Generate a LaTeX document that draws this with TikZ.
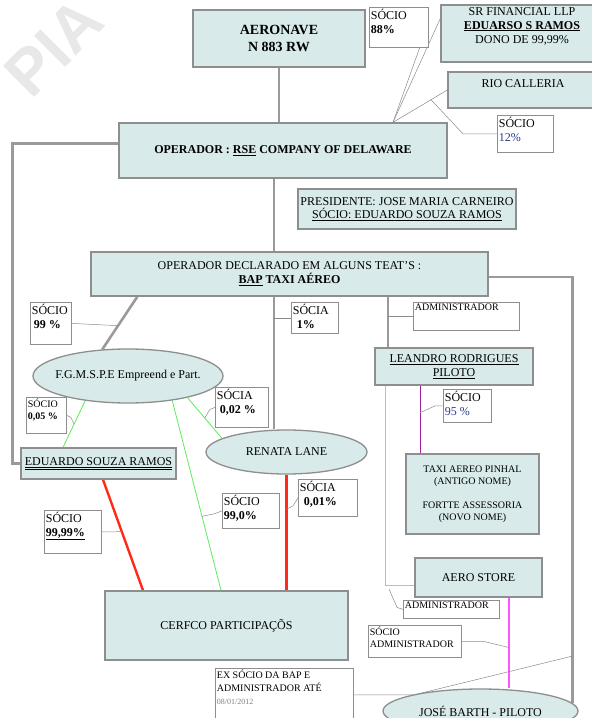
\documentclass[tikz,border=0pt]{standalone}
\usepackage{fontspec}
\setmainfont{Liberation Serif}
\newfontfamily\marksans{Liberation Sans}
\usetikzlibrary{shapes.geometric, calc, backgrounds}
\definecolor{boxfill}{HTML}{D8EAEA}
\definecolor{boxline}{HTML}{8E8E8E}
\definecolor{linkgray}{HTML}{9A9A9A}
\definecolor{callgray}{HTML}{8A8A8A}
\definecolor{ownred}{HTML}{FF2A1A}
\definecolor{owngreen}{HTML}{5CEB5C}
\definecolor{admpurple}{HTML}{A0209E}
\definecolor{admpink}{HTML}{DDA6DD}
\definecolor{admmag}{HTML}{FF55FF}
\definecolor{markgray}{HTML}{E8E8E8}
\definecolor{numblue}{HTML}{2A3A8A}
\newcommand{\calltxt}[3]{\parbox[t][#2][t]{#1}{\raggedright #3}}
\tikzset{
  entbox/.style = {draw=boxline, fill=boxfill, line width=1.3pt, align=center,
    inner xsep=1pt, inner ysep=2pt, font=\fontsize{12}{14}\selectfont},
  entoval/.style = {entbox, ellipse, inner sep=0pt},
  callbox/.style = {draw=boxline, fill=white, line width=0.8pt, anchor=north west,
    inner sep=1.5pt, font=\fontsize{12}{14}\selectfont},
  smallcall/.style = {callbox, font=\fontsize{10}{12}\selectfont},
  link/.style = {draw=linkgray, line width=2.6pt},
  call/.style = {draw=callgray, line width=0.5pt},
  redlink/.style = {draw=ownred, line width=2.4pt},
  greenlink/.style = {draw=owngreen, line width=0.8pt},
  purplelink/.style = {draw=admpurple, line width=1pt},
  pinklink/.style = {draw=admpink, line width=1pt},
  maglink/.style = {draw=admmag, line width=1.2pt},
  watermark/.style = {text=markgray, rotate=45,
    font=\marksans\bfseries\fontsize{64}{64}\selectfont}
}
\begin{document}
\begin{tikzpicture}[x=1pt, y=-1pt]
\useasboundingbox (0,0) rectangle (592,718);

\node[entbox, minimum width=172pt, minimum height=57pt,
  font=\fontsize{14}{17}\selectfont\bfseries] (aeronave) at (279,38.5) {AERONAVE\\N 883 RW};
\node[callbox] (soc88) at (369,7) {\calltxt{56pt}{37pt}{SÓCIO\\\textbf{88\%}}};
\node[entbox, minimum width=155pt, minimum height=57pt] (srfin) at (518.5,33.5) {};
\node[align=center, font=\fontsize{12}{14}\selectfont] (srfinlabel) at (522,26)
  {SR FINANCIAL LLP\\\textbf{\underline{EDUARSO S RAMOS}}\\DONO DE 99,99\%};
\node[entbox, minimum width=148pt, minimum height=36pt] (rio) at (522,90) {};
\node[font=\fontsize{12}{14}\selectfont] (riolabel) at (523,84) {RIO CALLERIA};
\node[callbox] (soc12) at (497,115) {\calltxt{53pt}{34pt}{SÓCIO\\\textcolor{numblue}{12\%}}};

\node[entbox, minimum width=328pt, minimum height=55pt,
  font=\fontsize{12}{14}\selectfont\bfseries] (operador) at (283,150.5)
  {OPERADOR : \underline{RSE} COMPANY OF DELAWARE};
\node[entbox, minimum width=218pt, minimum height=40pt,
  font=\fontsize{12}{13}\selectfont] (presid) at (407,209)
  {PRESIDENTE: JOSE MARIA CARNEIRO\\\underline{SÓCIO: EDUARDO SOUZA RAMOS}};
\node[entbox, minimum width=397pt, minimum height=44pt] (declarado) at (289.5,274)
  {OPERADOR DECLARADO EM ALGUNS TEAT'S :\\\textbf{\underline{BAP} TAXI AÉREO}};

\node[callbox] (soc99) at (30,302) {\calltxt{38pt}{39pt}{SÓCIO\\\hspace*{2pt}\textbf{99 \%}}};
\node[callbox] (soc1) at (291,302) {\calltxt{44pt}{28pt}{SÓCIA\\\hspace*{4pt}\textbf{1\%}}};
\node[smallcall] (adm1) at (413,302) {\calltxt{103pt}{25pt}{ADMINISTRADOR}};
\node[entbox, minimum width=158pt, minimum height=37pt] (leandro) at (454,366.5)
  {\underline{LEANDRO RODRIGUES}\\\underline{PILOTO}};
\node[entoval, minimum width=190pt, minimum height=54pt] (fgm) at (128,376)
  {\makebox[0pt]{F.G.M.S.P.E Empreend e Part.}};
\node[smallcall] (soc005) at (26,397) {\calltxt{37pt}{33pt}{SÓCIO\\\textbf{0,05 \%}}};
\node[callbox] (soc002) at (215,387) {\calltxt{50pt}{37pt}{SÓCIA\\\hspace*{3pt}\textbf{0,02 \%}}};
\node[callbox] (soc95) at (443,389) {\calltxt{45pt}{30pt}{SÓCIO\\\textcolor{numblue}{95 \%}}};
\node[entoval, minimum width=161pt, minimum height=44pt] (renata) at (286.5,452)
  {\makebox[0pt]{RENATA LANE}};
\node[entbox, minimum width=155pt, minimum height=31pt] (eduardo) at (98.5,463.5)
  {\underline{\underline{EDUARDO SOUZA RAMOS}}};
\node[entbox, minimum width=133pt, minimum height=80pt,
  font=\fontsize{10}{12}\selectfont] (taxi) at (472.5,494)
  {TAXI AEREO PINHAL\\(ANTIGO NOME)\\[12pt]FORTTE ASSESSORIA\\(NOVO NOME)};
\node[callbox] (soc001) at (298,479) {\calltxt{56pt}{34pt}{SÓCIA\\\hspace*{4pt}\textbf{0,01\%}}};
\node[callbox] (soc990) at (222,493) {\calltxt{54pt}{32pt}{SÓCIO\\\textbf{99,0\%}}};
\node[callbox] (soc9999) at (44,510) {\calltxt{54pt}{40pt}{SÓCIO\\\textbf{\underline{99,99\%}}}};
\node[entbox, minimum width=127pt, minimum height=39pt] (aerostore) at (478.5,577.5) {AERO STORE};
\node[entbox, minimum width=243pt, minimum height=69pt] (cerfco) at (226.5,625.5) {CERFCO PARTICIPAÇÕS};
\node[smallcall] (adm2) at (403,600) {\calltxt{93pt}{15pt}{ADMINISTRADOR}};
\node[smallcall] (socadm) at (368,625) {\calltxt{90pt}{29pt}{SÓCIO\\ADMINISTRADOR}};
\node[smallcall, font=\fontsize{10}{13}\selectfont] (exsocio) at (215,668)
  {\calltxt{135pt}{50pt}{EX SÓCIO DA BAP E\\ADMINISTRADOR ATÉ\\{\fontsize{8}{10}\selectfont\color{gray}08/01/2012}}};
\node[entoval, minimum width=195pt, minimum height=44pt] (jose) at (480.5,711) {JOSÉ BARTH - PILOTO};

\begin{scope}[on background layer]
\node[watermark] (mark) at (54,47) {PIA};
\draw[link] (aeronave.south) -- (aeronave.south |- operador.north);
\coordinate (oprn) at ([xshift=-12.5pt]renata.north);
\draw[link] (oprn) -- (oprn |- operador.south);
\draw[link] ([yshift=7pt]operador.west) -- ++(-106,0) |- (eduardo.west);
\coordinate (de) at ([yshift=-3pt]declarado.east);
\draw[link] (de) -| (jose.5);
\coordinate (dl) at ([xshift=-66pt]leandro.north);
\draw[link] (dl) -- (dl |- declarado.south);
\coordinate (dfa) at ([xshift=47pt]declarado.south west);
\draw[link] (dfa) -- (fgm.134);
\coordinate (ra) at ([xshift=4.5pt]eduardo.south);
\coordinate (rb) at ([xshift=-83.5pt]cerfco.north);
\draw[redlink] (ra) -- (rb);
\coordinate (rc) at (renata.south |- cerfco.north);
\draw[redlink] (renata.south) -- (rc);
\coordinate (ga) at ([xshift=-35.5pt]eduardo.north);
\draw[greenlink] (fgm.210) -- (ga);
\coordinate (gb) at ([xshift=-5.5pt]cerfco.north);
\draw[greenlink] (fgm.331) -- (gb);
\draw[greenlink] (fgm.340) -- (renata.168);
\coordinate (pt) at ([xshift=-52.5pt]taxi.north);
\coordinate (pl) at (pt |- leandro.south);
\draw[purplelink] (pl) -- (pt);
\coordinate (pk) at ([xshift=-69pt]leandro.south);
\coordinate (aw) at ([yshift=-7.5pt]aerostore.west);
\draw[pinklink] (pk) |- (aw);
\coordinate (pkc) at (pk |- aw);
\coordinate (mg) at ([xshift=30.5pt]aerostore.south);
\coordinate (mj) at (mg |- jose.north);
\draw[maglink] (mg) -- (mj);
\coordinate (optip) at ([xshift=110pt]operador.north);
\draw[call] (soc88.east) -- ++(-9,20) -- (optip);
\draw[call] ([yshift=15pt]srfin.west) -- (optip);
\draw[call] (rio.west) -- (optip);
\draw[call] (soc12.west) -- ++(-34,0) -- ($(rio.west)!0.3!(optip)$);
\draw[call] (soc99.east) -- ($(dfa)!0.55!(fgm.134)$);
\draw[call] (soc005.east) -- ++(4,2) -- ($(fgm.210)!0.5!(ga)$);
\draw[call] (soc002.west) -- ++(-5,2) -- ($(fgm.340)!0.5!(renata.168)$);
\draw[call] (soc1.west) -- (soc1.west -| oprn);
\draw[call] (adm1.west) -- (adm1.west -| dl);
\draw[call] (soc95.west) -- ++(-8,0) -- ($(pl)!0.4!(pt)$);
\draw[call] (soc9999.east) -- ($(ra)!0.47!(rb)$);
\draw[call] (soc990.west) -- ++(-8,3) -- ($(fgm.331)!0.61!(gb)$);
\draw[call] (soc001.west) -- ++(-5,8) -- ($(renata.south)!0.3!(rc)$);
\draw[call] (adm2.west) -- ++(-6,-2) -- ($(pkc)+(4,4)$);
\draw[call] (socadm.east) -- ++(22,0) -- ($(mg)!0.55!(mj)$);
\coordinate (rt) at (de -| jose.5);
\draw[call] (exsocio.east) -- ++(60,0) -- ($(rt)!0.89!(jose.5)$);
\end{scope}
\end{tikzpicture}
\end{document}
